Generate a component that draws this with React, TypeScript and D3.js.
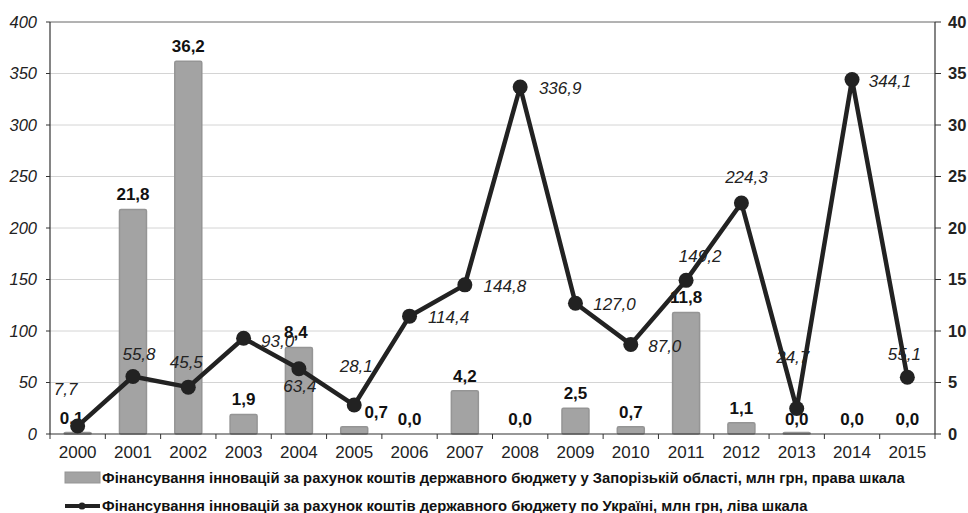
import React from 'react';
import * as d3 from 'd3';

const years = ['2000', '2001', '2002', '2003', '2004', '2005', '2006', '2007', '2008', '2009', '2010', '2011', '2012', '2013', '2014', '2015'];
// Запорізька область, млн грн (права шкала)
const regionValues = [0.1, 21.8, 36.2, 1.9, 8.4, 0.7, 0.0, 4.2, 0.0, 2.5, 0.7, 11.8, 1.1, 0.04, 0.0, 0.0];
// Україна, млн грн (ліва шкала)
const ukraineValues = [7.7, 55.8, 45.5, 93.0, 63.4, 28.1, 114.4, 144.8, 336.9, 127.0, 87.0, 149.2, 224.3, 24.7, 344.1, 55.1];
const leftTicks = [0, 50, 100, 150, 200, 250, 300, 350, 400];
const rightTicks = [0, 5, 10, 15, 20, 25, 30, 35, 40];
const legendBars = 'Фінансування інновацій за рахунок коштів державного бюджету у Запорізькій області, млн грн, права шкала';
const legendLine = 'Фінансування інновацій за рахунок коштів державного бюджету по Україні, млн  грн, ліва шкала';

// label nudges [dx, dy] relative to the point (line) or bar top (bars)
const lineLabelOffsets = [[-12, -31], [6, -17], [-2, -19], [34, 9], [1, 23], [2, -33], [39, 7], [40, 7], [40, 7], [39, 7], [34, 8], [14, -18], [5, -20], [-4, -46], [38, 7], [-3, -17]];
const barLabelDx = [-6, 0, 0, 0, -3, 22, 0, 0, 0, 0, 0, 0, 0, 0, 0, 0];

const fmt = (v: number) => v.toFixed(1).replace('.', ',');

export default function App() {
  const width = 968;
  const height = 513;
  const left = 50, right = 935, top = 22, bottom = 434;

  const x = d3.scaleBand().domain(years).range([left, right]).padding(0);
  const yL = d3.scaleLinear().domain([0, 400]).range([bottom, top]);
  const yR = d3.scaleLinear().domain([0, 40]).range([bottom, top]);
  const cx = (d: string) => (x(d) as number) + x.bandwidth() / 2;
  const barW = 27;

  const line = d3.line<number>()
    .x((_, i) => cx(years[i]))
    .y(d => yL(d));

  const font = '"Liberation Sans", Arial, sans-serif';

  return (
    <svg width={width} height={height} style={{ position: 'absolute', left: 0, top: 0, background: '#fff' }} fontFamily={font}>
      {/* gridlines */}
      {leftTicks.filter(t => t > 0).map(t => (
        <line key={t} x1={left} x2={right} y1={yL(t)} y2={yL(t)} stroke={t === 400 ? '#666' : '#d4d4d4'} strokeWidth={1} />
      ))}

      {/* bars */}
      {regionValues.map((v, i) => {
        const h = Math.max(bottom - yR(v), v > 0 ? 1.5 : 0);
        if (h <= 0) return null;
        return (
          <rect key={years[i]} x={cx(years[i]) - barW / 2} y={bottom - h} width={barW} height={h}
            fill="#a3a3a3" stroke="#959595" strokeWidth={1.5} rx={1.5} />
        );
      })}

      {/* axes */}
      <line x1={left} x2={left} y1={top} y2={bottom} stroke="#333" strokeWidth={1.2} />
      <line x1={right} x2={right} y1={top} y2={bottom} stroke="#333" strokeWidth={1.2} />
      <line x1={left} x2={right} y1={bottom} y2={bottom} stroke="#333" strokeWidth={1.2} />
      {leftTicks.map(t => (
        <g key={'l' + t}>
          <line x1={left - 4} x2={left} y1={yL(t)} y2={yL(t)} stroke="#333" />
          <text x={37} y={yL(t)} dy="0.35em" textAnchor="end" fontSize={16.5} fontStyle="italic" fill="#222">{t}</text>
        </g>
      ))}
      {rightTicks.map(t => (
        <g key={'r' + t}>
          <line x1={right} x2={right + 6} y1={yR(t)} y2={yR(t)} stroke="#333" />
          <text x={948} y={yR(t)} dy="0.35em" textAnchor="start" fontSize={16.5} fontWeight="bold" fill="#222">{t}</text>
        </g>
      ))}
      {years.map((yr, i) => (
        <g key={'x' + yr}>
          <line x1={x(yr) as number} x2={x(yr) as number} y1={bottom} y2={bottom + 5} stroke="#333" />
          {i === years.length - 1 && <line x1={right} x2={right} y1={bottom} y2={bottom + 5} stroke="#333" />}
          <text x={cx(yr)} y={458} textAnchor="middle" fontSize={17} fill="#222">{yr}</text>
        </g>
      ))}

      {/* bar labels */}
      {regionValues.map((v, i) => (
        <text key={'bl' + i} x={cx(years[i]) + barLabelDx[i]} y={yR(v) - 9} textAnchor="middle" fontSize={17} fontWeight="bold" fill="#111">{fmt(v)}</text>
      ))}

      {/* line */}
      <path d={line(ukraineValues) as string} fill="none" stroke="#222" strokeWidth={4.5} strokeLinejoin="round" />
      {ukraineValues.map((v, i) => (
        <circle key={'c' + i} cx={cx(years[i])} cy={yL(v)} r={7.5} fill="#222" />
      ))}
      {ukraineValues.map((v, i) => (
        <text key={'ll' + i} x={cx(years[i]) + lineLabelOffsets[i][0]} y={yL(v) + lineLabelOffsets[i][1]} textAnchor="middle" fontSize={17} fontStyle="italic" fill="#222">{fmt(v)}</text>
      ))}

      {/* legend */}
      <rect x={65} y={472} width={35} height={11} fill="#a3a3a3" stroke="#959595" />
      <text x={102} y={483} fontSize={14.8} fontWeight="bold" fill="#111">{legendBars}</text>
      <line x1={65} x2={100} y1={506} y2={506} stroke="#222" strokeWidth={4} />
      <circle cx={82} cy={506} r={3.5} fill="#222" />
      <text x={102} y={511} fontSize={14.8} fontWeight="bold" fill="#111">{legendLine}</text>
    </svg>
  );
}
